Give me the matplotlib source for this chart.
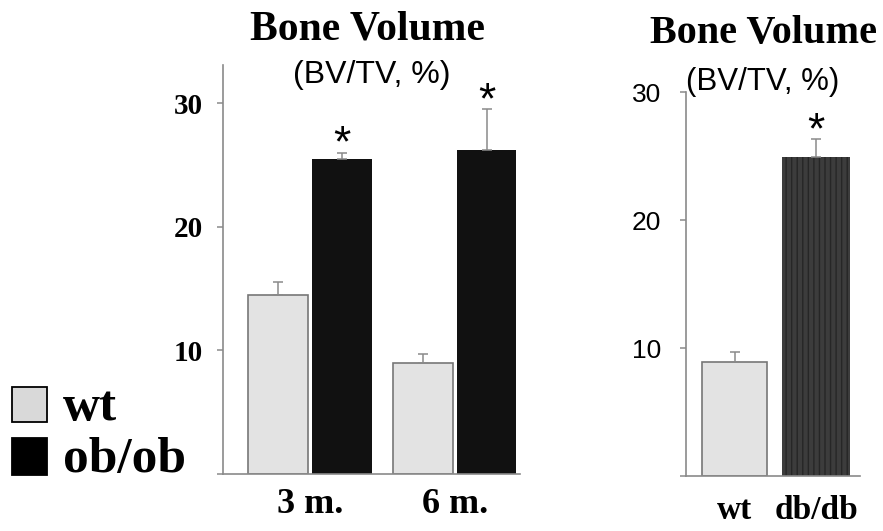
import matplotlib
matplotlib.use("Agg")
import matplotlib.pyplot as plt
import numpy as np

# bone volume data (BV/TV, %)
ages = ['3 m.', '6 m.']
wt_vals = [14.5, 9.0]
wt_err = [1.0, 0.7]
ob_vals = [25.5, 26.2]
ob_err = [0.5, 3.3]

db_labels = ['wt', 'db/db']
db_vals = [8.9, 24.9]
db_err = [0.8, 1.4]

W, H = 883, 531
SERIF = 'Liberation Serif'
SANS = 'Liberation Sans'
AXC = '#8a8a8a'
WTC = '#e3e3e3'

fig = plt.figure(figsize=(W / 100, H / 100), dpi=100)


def px(x, y):
    return x / W, 1 - y / H


ekw = dict(ecolor=AXC, elinewidth=1.1, capsize=3.5, capthick=1.1)

# ---- left panel: ob/ob ----
ax1 = fig.add_axes([223 / W, (H - 473.7) / H, (520 - 223) / W, (473.7 - 65) / H])
x = np.arange(len(ages))
bw = 0.41
ax1.bar(x - 0.22, wt_vals, bw, color=WTC, edgecolor='#777777', linewidth=1.2,
        yerr=[np.zeros(2), wt_err], error_kw=ekw)
ax1.bar(x + 0.22, ob_vals, bw, color='#111111', linewidth=0,
        yerr=[np.zeros(2), ob_err], error_kw=ekw)
for xi, v, e in zip(x, ob_vals, ob_err):
    ax1.annotate('*', (xi + 0.22, v + e), xytext=(0, -9), textcoords='offset points',
                 ha='center', va='bottom', fontsize=32, family=SANS)
ax1.set_xlim(-0.6, 1.45)
ax1.set_ylim(0, 33.1)
ax1.set_yticks([0, 10, 20, 30])
ax1.set_yticklabels(['', '10', '20', '30'], fontsize=21, fontweight='bold', family=SERIF)
ax1.set_xticks(x)
ax1.set_xticklabels(ages, fontsize=26, fontweight='bold', family=SERIF)
ax1.tick_params(axis='y', length=4.5, width=1.1, color=AXC, pad=10)
ax1.tick_params(axis='x', length=0, pad=10)

# ---- right panel: db/db ----
ax2 = fig.add_axes([686 / W, (H - 476) / H, (860 - 686) / W, (476 - 92) / H])
x2 = np.arange(len(db_labels))
ax2.bar(x2[0], db_vals[0], 0.8, color=WTC, edgecolor='#777777', linewidth=1.2,
        yerr=[[0], [db_err[0]]], error_kw=ekw)
ax2.bar(x2[1], db_vals[1], 0.84, color='#3c3c3c', edgecolor='#262626', linewidth=0, hatch='|||',
        yerr=[[0], [db_err[1]]], error_kw=ekw)
ax2.annotate('*', (x2[1], db_vals[1] + db_err[1]), xytext=(0, -9), textcoords='offset points',
             ha='center', va='bottom', fontsize=32, family=SANS)
ax2.set_xlim(-0.6, 1.54)
ax2.set_ylim(0, 30)
ax2.set_yticks([0, 10, 20, 30])
ax2.set_yticklabels(['', '10', '20', '30'], fontsize=19, family=SANS)
ax2.set_xticks(x2)
ax2.set_xticklabels(db_labels, fontsize=24, fontweight='bold', family=SERIF)
ax2.tick_params(axis='y', length=4, width=1.1, color=AXC, pad=14)
ax2.tick_params(axis='x', length=0, pad=14)

for ax in (ax1, ax2):
    for s in ('top', 'right'):
        ax.spines[s].set_visible(False)
    for s in ('left', 'bottom'):
        ax.spines[s].set_color(AXC)
        ax.spines[s].set_linewidth(1.2)

# titles
fig.text(*px(368, 30), 'Bone Volume', ha='center', va='center', fontsize=30, fontweight='bold', family=SERIF)
fig.text(*px(372, 75), '(BV/TV, %)', ha='center', va='center', fontsize=23, family=SANS)
fig.text(*px(764, 33), 'Bone Volume', ha='center', va='center', fontsize=29, fontweight='bold', family=SERIF)
fig.text(*px(763, 82), '(BV/TV, %)', ha='center', va='center', fontsize=22.5, family=SANS)

# legend
fig.patches.append(plt.Rectangle(px(12, 422), 35 / W, 35 / H, transform=fig.transFigure,
                                 facecolor='#d9d9d9', edgecolor='black', linewidth=1.3))
fig.patches.append(plt.Rectangle(px(12, 475), 35 / W, 37 / H, transform=fig.transFigure,
                                 facecolor='black', edgecolor='black', linewidth=1.3))
fig.text(*px(63, 420), 'wt', ha='left', va='baseline', fontsize=37, fontweight='bold', family=SERIF)
fig.text(*px(63, 472), 'ob/ob', ha='left', va='baseline', fontsize=37, fontweight='bold', family=SERIF)

fig.savefig('out.png', dpi=100)
